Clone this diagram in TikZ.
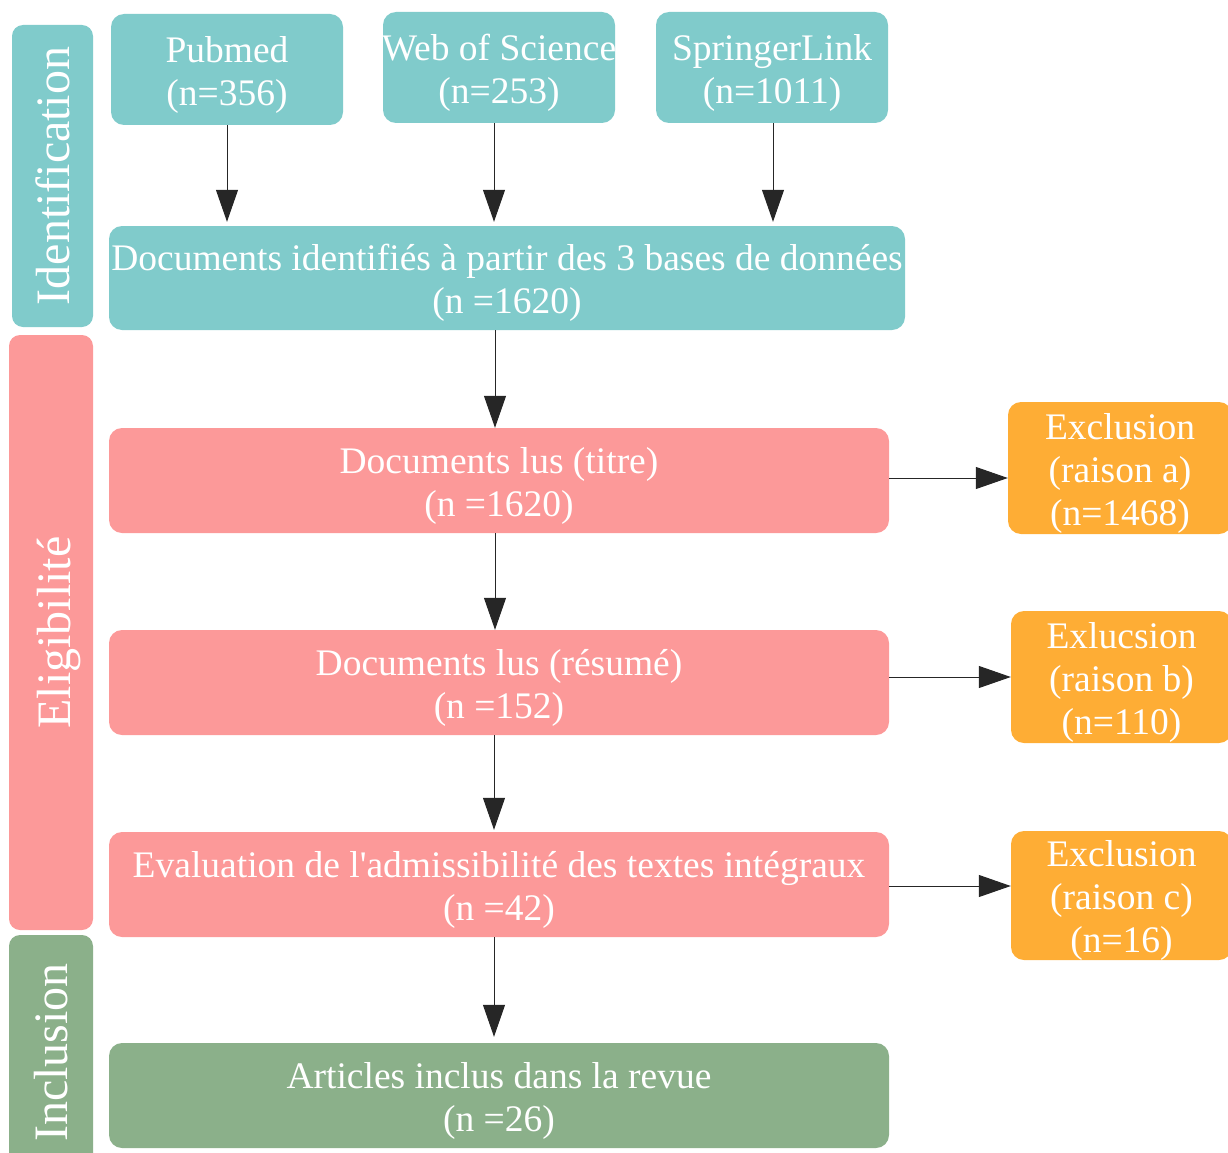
\documentclass[tikz,border=0pt]{standalone}
\usepackage{fontspec}
\setmainfont{Liberation Serif}[Ligatures=TeXOff]
\usetikzlibrary{arrows.meta}
\definecolor{tealbox}{HTML}{80CBCB}
\definecolor{pinkbox}{HTML}{FC9999}
\definecolor{orangebox}{HTML}{FEAD35}
\definecolor{greenbox}{HTML}{8BB08A}
\tikzset{
  box/.style={rounded corners=13pt, inner sep=0pt},
  boxtext/.style={inner sep=0pt, text=white, align=center, yshift=-5pt,
    font=\fontsize{37.5}{43}\selectfont},
  phase/.style={rounded corners=11pt, inner sep=0pt},
  phasetext/.style={rotate=90, text=white, font=\fontsize{48}{56}\selectfont},
  arr/.style={draw=black!85, line width=1pt, -{Triangle[length=32pt,width=22pt]}},
}
\begin{document}
\begin{tikzpicture}[x=1pt,y=-1pt]
\useasboundingbox (0,0) rectangle (1228,1153);
\clip (0,0) rectangle (1228,1153);

% phase labels on the left
\node[phase, fill=tealbox, minimum width=81pt, minimum height=302pt] (idlab) at (52.5,176) {};
\node[phasetext] (idtxt) at (idlab.center) {Identification};
\node[phase, fill=pinkbox, minimum width=84pt, minimum height=595pt] (ellab) at (51,632.5) {};
\node[phasetext, yshift=-8pt] (eltxt) at (ellab.center) {Eligibilité};
\node[phase, fill=greenbox, minimum width=84pt, minimum height=235pt] (inlab) at (51,1052.5) {};
\node[phasetext] (intxt) at (inlab.center) {Inclusion};

% sources
\node[box, fill=tealbox, minimum width=232pt, minimum height=111pt] (pub) at (227,69.5) {};
\node[boxtext] (pubt) at (pub.center) {Pubmed\\(n=356)};
\node[box, fill=tealbox, minimum width=232pt, minimum height=111pt] (wos) at (499,67.5) {};
\node[boxtext] (wost) at (wos.center) {Web of Science\\(n=253)};
\node[box, fill=tealbox, minimum width=232pt, minimum height=111pt] (spr) at (772,67.5) {};
\node[boxtext] (sprt) at (spr.center) {SpringerLink\\(n=1011)};

% main column
\node[box, fill=tealbox, minimum width=796pt, minimum height=104pt] (docid) at (507,278) {};
\node[boxtext] (docidt) at (docid.center) {Documents identifiés à partir des 3 bases de données\\(n =1620)};
\node[box, fill=pinkbox, minimum width=780pt, minimum height=105pt] (titre) at (499,480.5) {};
\node[boxtext] (titret) at (titre.center) {Documents lus (titre)\\(n =1620)};
\node[box, fill=pinkbox, minimum width=780pt, minimum height=105pt] (resume) at (499,682.5) {};
\node[boxtext] (resumet) at (resume.center) {Documents lus (résumé)\\(n =152)};
\node[box, fill=pinkbox, minimum width=780pt, minimum height=105pt] (eval) at (499,884.5) {};
\node[boxtext] (evalt) at (eval.center) {Evaluation de l'admissibilité des textes intégraux\\(n =42)};
\node[box, fill=greenbox, minimum width=780pt, minimum height=105pt] (incl) at (499,1095.5) {};
\node[boxtext] (inclt) at (incl.center) {Articles inclus dans la revue\\(n =26)};

% exclusions
\node[box, fill=orangebox, minimum width=224pt, minimum height=132pt] (exa) at (1120,468) {};
\node[boxtext] (exat) at (exa.center) {Exclusion\\(raison a)\\(n=1468)};
\node[box, fill=orangebox, minimum width=221pt, minimum height=132pt] (exb) at (1121.5,677) {};
\node[boxtext] (exbt) at (exb.center) {Exlucsion\\(raison b)\\(n=110)};
\node[box, fill=orangebox, minimum width=221pt, minimum height=129pt] (exc) at (1121.5,895.5) {};
\node[boxtext] (exct) at (exc.center) {Exclusion\\(raison c)\\(n=16)};

% connectors
\draw[arr, shorten >=4pt] (pub.south) -- (pub.south |- docid.north);
\draw[arr, shorten >=4pt] (wos.south -| 494,0) -- (494,0 |- docid.north);
\draw[arr, shorten >=4pt] (spr.south -| 773,0) -- (773,0 |- docid.north);
\draw[arr] (docid.south -| 495,0) -- (495,0 |- titre.north);
\draw[arr] (titre.south -| 495,0) -- (495,0 |- resume.north);
\draw[arr, shorten >=2pt] (resume.south -| 494,0) -- (494,0 |- eval.north);
\draw[arr, shorten >=6pt] (eval.south -| 494,0) -- (494,0 |- incl.north);
\draw[arr] (titre.east |- 0,478) -- (exa.west |- 0,478);
\draw[arr] (resume.east |- exb.west) -- (exb.west);
\draw[arr] (eval.east |- 0,886) -- (exc.west |- 0,886);
\end{tikzpicture}
\end{document}
